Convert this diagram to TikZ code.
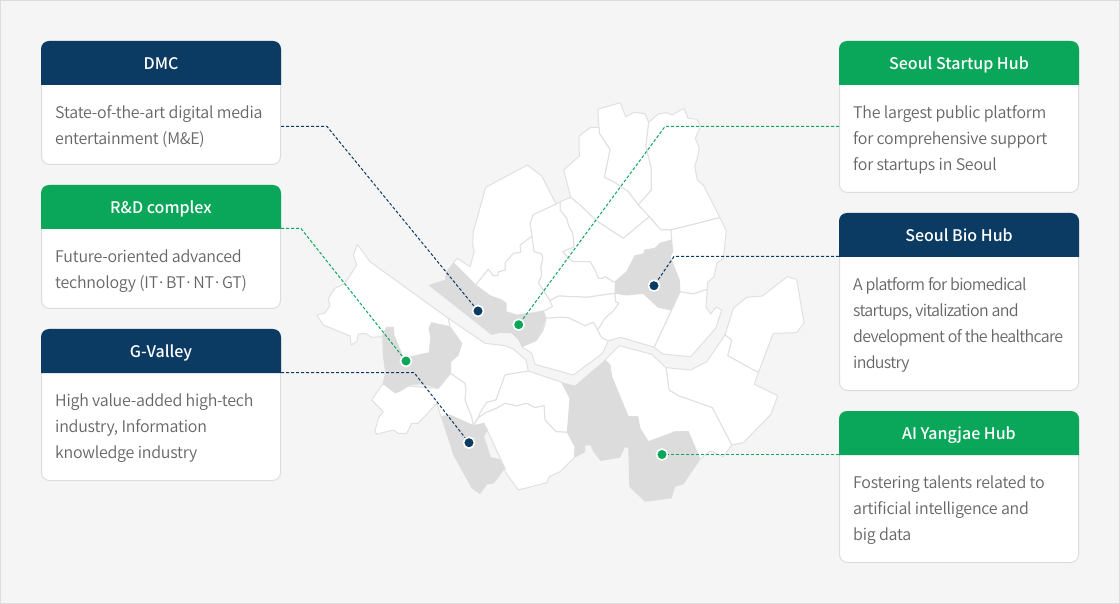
\documentclass[tikz,border=0pt]{standalone}
\usepackage{fontspec}
\setmainfont{Noto Sans CJK KR}
\newfontfamily\bodyfont{Noto Sans CJK KR DemiLight}[LetterSpace=-1.5]
\newfontfamily\tightfont{Noto Sans CJK KR DemiLight}[LetterSpace=-4.3]
\newfontfamily\headfont{Noto Sans CJK KR Medium}
\definecolor{navy}{HTML}{0B3A63}
\definecolor{grn}{HTML}{0AA65A}
\definecolor{bgc}{HTML}{F5F5F5}
\definecolor{edgec}{HTML}{DDDDDD}
\definecolor{distc}{HTML}{E0E0E0}
\definecolor{hilite}{HTML}{DCDCDC}
\definecolor{txt}{HTML}{666666}
\tikzset{
  x=1pt,y=-1pt,
  district/.style={fill=white,draw=distc,line width=1pt,line join=round},
  hiliteD/.style={fill=hilite,draw=none},
  cardbox/.style={draw=edgec,fill=white,line width=1pt,rounded corners=8pt,minimum width=239pt,inner sep=0pt},
  headtxt/.style={text=white,inner sep=0pt,anchor=base,font=\headfont\fontsize{16}{20}\selectfont},
  bodytxt/.style={text=txt,inner sep=0pt,align=left,anchor=north west,font=\bodyfont\fontsize{16}{26}\selectfont},
  leadN/.style={draw=navy,line width=1pt,dash pattern=on 3pt off 2pt},
  leadG/.style={draw=grn,line width=1pt,dash pattern=on 3pt off 2pt},
  dotN/.style={circle,fill=navy,draw=white,line width=1.6pt,minimum size=11pt,inner sep=0pt},
  dotG/.style={circle,fill=grn,draw=white,line width=1.6pt,minimum size=11pt,inner sep=0pt},
}
% name, left, top, bottom, colour, title, body
\newcommand\mycard[7]{%
  \pgfmathsetmacro\cR{#2+240}%
  \pgfmathsetmacro\cM{#2+120}%
  \pgfmathsetmacro\cH{#3+44}%
  \pgfmathsetmacro\cTm{#3+28.5}%
  \pgfmathsetmacro\cBm{(#3+#4)/2}%
  \pgfmathsetmacro\cHt{#4-#3-1}%
  \pgfmathsetmacro\cTx{#2+14}%
  \pgfmathsetmacro\cTy{#3+59.2}%
  \node[cardbox,minimum height=\cHt pt] (#1) at (\cM,\cBm) {};
  \fill[#5] (#2,\cH) {[rounded corners=8pt] -- (#2,#3) -- (\cR,#3)} -- (\cR,\cH) -- cycle;
  \node[headtxt] (#1H) at (\cM,\cTm) {#6};
  \node[bodytxt] (#1T) at (\cTx,\cTy) {\rule{0pt}{18pt}#7};
}
\begin{document}
\begin{tikzpicture}
\useasboundingbox (0,0) rectangle (1120,604);
\fill[bgc] (0,0) rectangle (1120,604);
\draw[edgec,line width=1pt] (0.5,0.5) rectangle (1119.5,603.5);

% --- districts: north-east
\draw[district] (597.7,109.3)--(620.3,102.7)--(625.7,116.7)--(634,112.3)--(645,113.7)--(648.7,122.3)--(646,146.7)--(651.3,168.3)--(651.3,190)--(638.3,205)--(628.3,191.7)--(621,186.7)--(613.3,181.7)--(604.3,177.3)--(610,149.3)--(599.3,133.3)--cycle;
\draw[district] (648.7,122.3)--(658.3,114)--(666.7,112.7)--(671.7,115)--(684,108.3)--(688,118.3)--(696.7,119.3)--(700.7,126)--(695.3,138.3)--(699.3,148.3)--(697.3,158.3)--(694.7,166)--(697.3,180)--(703.3,185)--(720,217.7)--(670.7,230)--(660.7,230)--(649.3,216.7)--(638.3,205)--(651.3,190)--(651.3,168.3)--(646,146.7)--cycle;
\draw[district] (599,127.3)--(590.7,127.3)--(579,136)--(579.3,156)--(563.7,170)--(570.7,197.3)--(580,205)--(596.7,221)--(623.3,238.3)--(649.3,216.7)--(638.3,205)--(628.3,191.7)--(621,186.7)--(613.3,181.7)--(604.3,177.3)--(610,149.3)--(599.3,133.3)--cycle;
\draw[district] (670.7,230)--(720,217.7)--(726.3,231)--(723.3,258.3)--(716.7,263.3)--(714,276.7)--(707.3,282.7)--(707.3,289.3)--(693.3,294)--(680,291.7)--(679.3,280)--(674,266.7)--(670,256.7)--(672.7,251.7)--(671.7,240)--cycle;
% Seongbuk
\draw[district] (560.3,201.7)--(570.7,197.3)--(580,205)--(596.7,221)--(623.3,238.3)--(649.3,216.7)--(660.7,230)--(670.7,230)--(671.7,240)--(660,243.3)--(655,248.3)--(645,250)--(643.3,254)--(635,255.7)--(626.7,271.7)--(615,281.7)--(613.3,281.7)--(605,276.7)--(602.7,278.3)--(598.3,278.3)--(595,270)--(590,261.7)--(573.3,261.7)--(568.3,258.3)--(562.7,251.7)--(574,246.7)--(572.7,233.3)--(568.3,225)--(566.7,218.3)--(560,210)--cycle;
% Jongno
\draw[district] (533.3,214.5)--(556,204)--(560.3,201.7)--(560,210)--(566.7,218.3)--(568.3,225)--(572.7,233.3)--(574,246.7)--(562.7,251.7)--(568.3,258.3)--(573.3,261.7)--(590,261.7)--(595,270)--(598.3,278.3)--(602.7,278.3)--(605,276.7)--(613.3,281.7)--(615,281.7)--(615,293.3)--(586.7,297.3)--(558.3,296)--(550,300.7)--(538.3,282.7)--(541.7,275)--(540.7,266.7)--(542.7,258.3)--(541.7,254)--(534,251.7)--(531.7,236.7)--(530,223.3)--cycle;
% Jung-gu
\draw[district] (552.3,306.7)--(550,300.7)--(558.3,296)--(586.7,297.3)--(615,293.3)--(615.7,301.7)--(619,303.3)--(613.3,311)--(605,318.3)--(597.7,330)--(593.3,322.3)--(585,325.7)--(568.3,317.7)--(560,317.3)--(546,318.3)--(543.3,311)--cycle;
% Seodaemun
\draw[district] (532,236)--(534,251.7)--(541.7,254)--(542.7,258.3)--(540.7,266.7)--(541.7,275)--(538.3,282.7)--(550,300.7)--(552.3,306.7)--(543.3,311)--(530,313.3)--(516.7,315)--(506,311.7)--(506,303.3)--(501.7,300)--(490,295.7)--(475.7,285)--(488.3,269)--(493.3,275.7)--(497.7,275.7)--(498.3,271.7)--(505,270)--(505,262.7)--(513.3,253.3)--(520.7,252.3)--(520,245)--cycle;
% Eunpyeong
\draw[district] (485.7,187.3)--(527.3,165)--(541.7,176)--(556,204)--(533.3,214.5)--(530,223.3)--(532,236)--(520,245)--(520.7,252.3)--(513.3,253.3)--(505,262.7)--(505,270)--(498.3,271.7)--(497.7,275.7)--(493.3,275.7)--(488.3,269)--(475.7,285)--(453.3,262.7)--(457.3,258.3)--(470,266.7)--(474.3,251.7)--(472.7,245)--(473.3,231.7)--cycle;
% Yongsan
\draw[district] (546,318.3)--(560,317.3)--(568.3,317.7)--(585,325.7)--(593.3,322.3)--(597.7,330)--(601.7,337.7)--(608.3,340.7)--(602.7,353.3)--(573.3,375)--(535,364.3)--(531.7,353.3)--(521.7,346.7)--(536.7,340)--(543.3,330)--cycle;
% Seongdong
\draw[district] (615,293.3)--(626.7,295)--(643.3,293.3)--(658.3,307.3)--(671.7,310)--(654.3,347.3)--(620.7,337.3)--(608.3,340.7)--(601.7,337.7)--(597.7,330)--(605,318.3)--(613.3,311)--(619,303.3)--(615.7,301.7)--cycle;
% Gwangjin
\draw[district] (680,291.7)--(693.3,294)--(707.3,289.3)--(706,307.3)--(710.7,314)--(716,307.3)--(721.7,310)--(715.7,328.3)--(690.7,356.7)--(662.7,354)--(654.3,347.3)--(671.7,310)--cycle;
% Gangdong
\draw[district] (733.3,308.3)--(746.7,297.3)--(762.3,296)--(787.3,276.7)--(796.7,279.3)--(804,322.7)--(796.7,332.7)--(773.3,333.3)--(758.3,372.7)--(727.7,355.7)--(731.7,340)--(725,335)--cycle;
% Songpa
\draw[district] (666,367.7)--(690.7,370)--(706.7,361.7)--(725,335)--(731.7,340)--(727.7,355.7)--(758.3,372.5)--(754.3,384.3)--(777.7,395.7)--(771,414.3)--(743.3,442.7)--(731.7,445)--(712.3,407.7)--(678.3,395.7)--(669,390)--cycle;
% Gangnam
\draw[district] (605,360)--(619.3,345.7)--(651.7,354.3)--(666,367.7)--(669,390)--(678.3,395.7)--(712.3,407.7)--(731.7,445)--(723.3,456.7)--(710.7,451)--(700,459)--(688.3,431.7)--(675,431.7)--(648.3,441.7)--(640,428.3)--(637.7,416.7)--(628.3,416.7)--(611.7,376.7)--(610,365)--cycle;
% --- south-west
% Gangseo
\draw[district] (357.3,244.3)--(370,261.7)--(448.3,318.3)--(450,326.7)--(431.7,322.7)--(429,328.3)--(430.7,336.7)--(429.3,352.7)--(403.3,358.3)--(394,335)--(393.3,327.3)--(386.7,327.3)--(381.7,336.7)--(371.7,337.3)--(365,333.3)--(358.3,334)--(356.7,341.7)--(351,345)--(350,336)--(323.3,325)--(316.7,315)--(324.3,313.3)--(330,306)--(328.3,298.3)--(335,288.3)--(345,283.3)--(356.7,265)--(353.3,255)--cycle;
% Guro
\draw[district] (382.7,384)--(371.7,400)--(383.3,411.7)--(378.3,418.3)--(375,431)--(376.7,434.3)--(393.3,430)--(398.3,433.3)--(406.7,433.3)--(411.7,423.3)--(418.3,423.3)--(436.7,403.3)--(441,416.7)--(450,415)--(473.3,425.7)--(471.7,416.7)--(465,400)--(466,390)--(465,383.3)--(450.7,373.3)--(438.3,388.3)--cycle;
% Yeongdeungpo
\draw[district] (450,326.7)--(448.3,318.3)--(485,343.3)--(505,345.7)--(513.3,349)--(526,360)--(528.3,371)--(505,375)--(496,400)--(486.7,402.3)--(473.3,425.7)--(471.7,416.7)--(465,400)--(466,390)--(465,383.3)--(450.7,373.3)--(450.7,361.7)--(458.3,355)--(461.7,343.3)--cycle;
% Dongjak
\draw[district] (528.3,371)--(561.7,382.3)--(570,398.3)--(567.3,432.3)--(556,431.7)--(545,420)--(544,405.7)--(535,407.7)--(526.7,403.3)--(516.7,406)--(505,403.3)--(496.7,408.3)--(486.7,412.3)--(478.3,417.7)--(480,413)--(486.7,402.3)--(496,400)--(505,375)--cycle;
% Gwanak
\draw[district] (473.3,425.7)--(478.3,417.7)--(486.7,412.3)--(496.7,408.3)--(505,403.3)--(516.7,406)--(526.7,403.3)--(535,407.7)--(544,405.7)--(545,420)--(556,431.7)--(567.3,432.3)--(575,446.7)--(574.3,457.7)--(560,471.7)--(549.3,476.7)--(546.7,482.7)--(518.3,490)--(505,471.7)--(505,468.3)--(484,423.3)--cycle;

% --- highlighted districts
\path[hiliteD] (615,293.3)--(615,281.7)--(626.7,271.7)--(635,255.7)--(643.3,254)--(645,250)--(655,248.3)--(660,243.3)--(671.7,240)--(672.7,251.7)--(670,256.7)--(674,266.7)--(679.3,280)--(680,291.7)--(671.7,310)--(658.3,307.3)--(643.3,293.3)--(626.7,295)--cycle;
\path[hiliteD] (453.3,262.7)--(446,271.7)--(445,280)--(428.3,285)--(491.7,335)--(500,332.7)--(511.7,333.3)--(518.3,340)--(521.7,346.7)--(535,341.7)--(541.7,331.7)--(546,318.3)--(543.3,311)--(530,313.3)--(516.7,315)--(506,311.7)--(506,303.3)--(501.7,300)--(490,295.7)--(475,285)--cycle;
\path[hiliteD] (382.3,336.7)--(386.7,327.3)--(393.3,327.3)--(394,335)--(403.3,358.3)--(429.3,352.7)--(430.7,336.7)--(429,328.3)--(431.7,322.7)--(450,326.7)--(461.7,343.3)--(458.3,355)--(450.7,361.7)--(450,373.3)--(438.3,388.3)--(421.7,384.3)--(410.7,385)--(400,391.7)--(395,393.3)--(382.7,384)--(385,371.7)--(382.7,353.3)--cycle;
\path[hiliteD] (441,416.7)--(450,415)--(473.3,425.7)--(484,423.3)--(487.7,430)--(484,436.7)--(491,457.3)--(499.3,459)--(505,468.3)--(494,483.3)--(487.3,484.3)--(480,494)--(471.7,488.3)--(453.3,455)--cycle;
\path[hiliteD] (561.7,382.3)--(575,385.7)--(605,360)--(610,365)--(611.7,376.7)--(628.3,416.7)--(637.7,416.7)--(640,428.3)--(648.3,441.7)--(675,431.7)--(688.3,431.7)--(700,460)--(683.3,484.3)--(675,486.7)--(671.7,498.3)--(645,501.7)--(629.3,486.7)--(628.3,448.3)--(625,446.7)--(620,457.7)--(600.7,461)--(593.3,451.7)--(590.7,445)--(585,445.7)--(585,452.3)--(574.3,457.7)--(575,446.7)--(567.3,431.7)--(570,398.3)--cycle;

% --- cards
\mycard{dmc}{41}{41}{165}{navy}{DMC}{State-of-the-art digital media\\entertainment (M\&E)}
\mycard{rnd}{41}{185}{309}{grn}{R\&D complex}{Future-oriented advanced\\technology (IT·\kern0.4pt BT·\kern0.4pt NT·\kern0.4pt GT)}
\mycard{gval}{41}{329}{481}{navy}{G-Valley}{High value-added high-tech\\industry, Information\\knowledge industry}
\mycard{hub}{839}{41}{193}{grn}{Seoul Startup Hub}{The largest public platform\\for comprehensive support\\for startups in Seoul}
\mycard{bio}{839}{213}{391}{navy}{Seoul Bio Hub}{\tightfont A platform for biomedical\\\tightfont startups, vitalization and\\\tightfont development of the healthcare\\\tightfont industry}
\mycard{yang}{839}{411}{563}{grn}{AI Yangjae Hub}{Fostering talents related to\\artificial intelligence and\\big data}

% --- leader ends
\coordinate (dmcA) at (281,126.5);  \coordinate (dmcB) at (327,126.5);
\coordinate (rndA) at (281,228.5);  \coordinate (rndB) at (301,228.5);
\coordinate (gvalA) at (281,372.5); \coordinate (gvalB) at (414,372.5);
\coordinate (hubA) at (839,126.5);  \coordinate (hubB) at (665,126.5);
\coordinate (bioA) at (839,256.5);  \coordinate (bioB) at (674,256.5);
\coordinate (yangA) at (839,454.5);

\node[dotN] (dmcD) at (478,311) {};
\node[dotG] (hubD) at (518.7,324.7) {};
\node[dotG] (rndD) at (406,361) {};
\node[dotN] (gvalD) at (469,442.7) {};
\node[dotN] (bioD) at (654,285.7) {};
\node[dotG] (yangD) at (662,454.5) {};

\draw[leadN] (dmcA)--(dmcB)--(dmcD);
\draw[leadG] (rndA)--(rndB)--(rndD);
\draw[leadN] (gvalA)--(gvalB)--(gvalD);
\draw[leadG] (hubA)--(hubB)--(hubD);
\draw[leadN] (bioA)--(bioB)--(bioD);
\draw[leadG] (yangA)--(yangD);
\end{tikzpicture}
\end{document}
